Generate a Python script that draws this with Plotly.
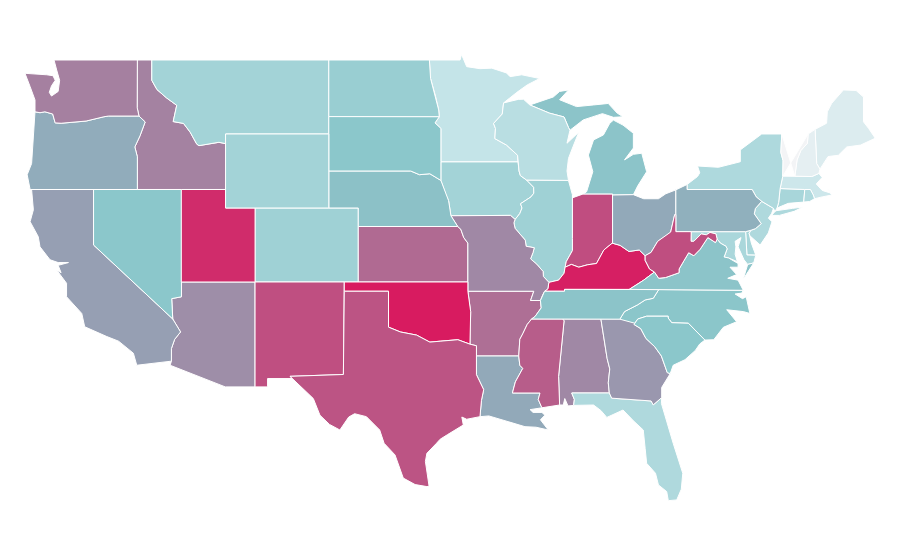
import plotly.graph_objects as go
from plotly.colors import sample_colorscale

# Shaded value per state (0-100)
states = ["AL","AR","AZ","CA","CO","CT","DC","DE","FL","GA","IA","ID","IL","IN","KS","KY","LA","MA","MD","ME","MI","MN","MO","MS","MT","NC","ND","NE","NH","NJ","NM","NV","NY","OH","OK","OR","PA","RI","SC","SD","TN","TX","UT","VA","VT","WA","WI","WV","WY"]
values = [61.5,70.5,59.5,53.5,33,30,30,30,27.5,56.4,31.6,63.7,33,82.5,72.2,98.5,50,16,29,10,41,20,61.5,76.8,31.6,40.5,35,42,6,27.5,81.9,40,27.7,50,100,49,47.7,27,40,40,41,80,94,41,0,64.5,24,82,31.6]
colorscale = [[0,"#f3f4f6"],[0.2,"#c4e4e8"],[0.4,"#8bc7cb"],[0.5,"#92a9b9"],[0.62,"#a187a4"],[0.8,"#bc5484"],[1,"#d81b60"]]

# Shared state borders in (lon, lat), so that neighbours meet exactly
MN_WI = [(-92.2,46.68),(-92.29,46.08),(-92.88,45.57),(-92.75,45.3),(-92.79,44.75),(-92.0,44.4),(-91.25,43.85),(-91.22,43.5)]
IA_WI = [(-91.22,43.5),(-91.15,43.0),(-91.06,42.75),(-90.64,42.51)]
IA_IL = [(-90.64,42.51),(-90.16,42.12),(-90.15,41.8),(-90.34,41.6),(-91.05,41.23),(-90.95,41.0),(-91.1,40.7),(-91.42,40.38)]
MO_IL = [(-91.42,40.38),(-91.5,40.2),(-91.42,39.9),(-90.73,39.26),(-90.67,38.93),(-90.12,38.85),(-90.2,38.6),(-90.37,38.25),(-89.95,37.96),(-89.52,37.57),(-89.5,37.3),(-89.13,36.98)]
MO_KY = [(-89.13,36.98),(-89.2,36.63),(-89.42,36.5)]
MO_TN = [(-89.42,36.5),(-89.55,36.3),(-89.7,36.0)]
AR_TN = [(-89.7,36.0),(-89.65,35.6),(-90.07,35.13),(-90.3,35.0)]
AR_MS = [(-90.3,35.0),(-90.6,34.7),(-90.9,34.2),(-91.1,33.9),(-91.17,33.0)]
LA_MS = [(-91.17,33.0),(-91.1,32.5),(-90.9,32.33),(-91.4,31.6),(-91.6,31.0),(-89.73,31.0),(-89.85,30.65),(-89.6,30.2)]
IL_KY = [(-89.13,36.98),(-88.47,37.1),(-88.1,37.47),(-88.03,37.8)]
IN_KY = [(-88.03,37.8),(-87.6,37.95),(-87.1,37.8),(-86.5,37.93),(-85.9,38.0),(-85.4,38.73),(-84.83,39.1)]
OH_KY = [(-84.83,39.1),(-84.3,38.98),(-83.7,38.65),(-83.0,38.73),(-82.6,38.42)]
OH_WV = [(-82.6,38.42),(-82.2,38.6),(-81.75,39.2),(-81.0,39.6),(-80.87,39.7),(-80.6,40.64)]
IL_IN = [(-88.03,37.8),(-87.95,38.1),(-87.53,38.7),(-87.53,39.35),(-87.53,41.71)]
DE_river = [(-74.7,41.36),(-75.13,40.97),(-75.2,40.68),(-74.73,40.15),(-75.13,39.88),(-75.42,39.8)]
NY_PA = [(-79.76,42.27),(-79.76,42.0),(-75.35,42.0),(-75.07,41.6),(-74.7,41.36)]
KY_WV = [(-82.6,38.42),(-82.6,38.17),(-82.3,37.7),(-81.97,37.54)]
VA_WV = [(-81.97,37.54),(-81.68,37.2),(-81.22,37.24),(-80.3,37.5),(-80.3,37.7),(-79.95,38.18),(-79.65,38.58),(-79.3,38.42),(-78.87,38.77),(-78.35,39.4),(-77.83,39.13),(-77.72,39.32)]
MD_WV = [(-77.72,39.32),(-77.8,39.6),(-78.2,39.68),(-78.45,39.55),(-78.8,39.6),(-79.3,39.2),(-79.49,39.2),(-79.48,39.72)]
KY_VA = [(-81.97,37.54),(-82.7,37.1),(-83.68,36.6)]
TN_NC = [(-81.68,36.59),(-82.05,36.12),(-82.6,36.03),(-83.1,35.77),(-84.0,35.4),(-84.32,34.99)]
NC_SC = [(-83.3,34.77),(-83.1,35.0),(-82.5,35.15),(-81.04,35.15),(-81.04,35.05),(-80.8,34.8),(-79.67,34.77),(-78.55,33.86)]
GA_SC = [(-83.3,34.77),(-83.35,34.7),(-82.9,34.48),(-82.55,33.95),(-81.95,33.5),(-81.5,33.0),(-81.1,32.1),(-80.9,32.05)]
FL_GA = [(-81.48,30.75),(-82.05,30.36),(-82.2,30.57),(-84.87,30.72),(-85.03,31.0)]
AL_GA = [(-85.03,31.0),(-85.1,31.55),(-85.0,32.3),(-85.18,32.87),(-85.6,35.0)]
AL_FL = [(-85.03,31.0),(-87.58,31.0),(-87.4,30.65),(-87.45,30.33)]
AL_MS = [(-88.2,35.0),(-88.1,34.9),(-88.47,31.9),(-88.4,30.35)]
LA_TX = [(-94.04,33.0),(-94.04,31.99),(-93.55,31.18),(-93.7,30.6),(-93.8,29.72)]
OK_AR = [(-94.62,36.5),(-94.43,35.39),(-94.48,33.64)]
RED_RIVER = [(-100.0,34.56),(-99.2,34.3),(-98.1,34.13),(-97.2,33.75),(-96.5,33.8),(-95.3,33.88),(-94.48,33.64)]
KS_MO = [(-94.62,37.0),(-94.62,39.1),(-94.9,39.4),(-95.1,39.85),(-95.31,40.0)]
IA_NE = [(-95.77,40.58),(-95.85,41.0),(-95.93,41.4),(-96.1,41.7),(-96.45,42.49)]
NE_SD = [(-96.45,42.49),(-97.2,42.85),(-97.9,42.8),(-98.5,43.0),(-104.05,43.0)]
MN_SD = [(-96.45,43.5),(-96.45,45.3),(-96.85,45.6),(-96.56,45.93)]
MN_ND = [(-96.56,45.93),(-96.6,46.3),(-96.8,47.0),(-97.15,48.0),(-97.23,49.0)]
ID_MT = [(-111.05,44.48),(-111.5,44.55),(-112.85,44.37),(-113.0,44.45),(-113.45,45.1),(-113.9,45.57),(-114.6,45.67),(-114.36,46.55),(-115.05,46.95),(-115.7,47.4),(-116.05,47.9),(-116.05,49.0)]
ID_OR = [(-117.03,42.0),(-117.03,43.77),(-117.2,44.3),(-116.85,44.9),(-116.5,45.65),(-116.92,45.97)]
OR_WA = [(-116.92,45.97),(-118.98,45.97),(-119.3,45.93),(-120.5,45.7),(-121.2,45.65),(-122.2,45.58),(-122.6,45.6),(-122.77,46.08),(-123.3,46.2),(-123.63,46.15),(-123.97,46.2)]
AZ_CA = [(-114.63,35.0),(-114.1,34.3),(-114.5,33.9),(-114.72,33.4),(-114.72,32.72)]
TX_RIO = [(-97.25,25.96),(-97.4,25.94),(-98.2,26.05),(-99.0,26.4),(-99.56,27.65),(-100.3,28.28),(-100.6,29.0),(-101.5,29.72),(-102.3,29.88),(-102.7,29.7),(-103.3,29.0),(-104.0,29.3),(-104.65,29.8),(-105.1,30.7),(-106.0,31.4),(-106.68,31.9)]
VT_NH = [(-71.55,45.0),(-71.6,44.5),(-72.05,44.1),(-72.3,43.6),(-72.45,42.72)]
NY_VT = [(-73.34,45.0),(-73.4,44.0),(-73.25,43.55),(-73.27,42.72)]
NH_ME = [(-71.08,45.25),(-70.97,43.4),(-70.75,43.1)]
POTOMAC = [(-76.3,38.0),(-76.95,38.3),(-77.25,38.35),(-77.04,38.79),(-77.12,38.93),(-77.5,39.1),(-77.72,39.32)]

def r(seg):
    return seg[::-1]

outlines = {
 "WA": [[(-122.68,49.0),(-117.03,49.0),(-117.04,46.42)] + OR_WA + [(-123.97,46.84),(-124.3,47.56),(-124.65,48.28),(-123.17,48.2),(-122.75,48.15),(-122.6,47.9),(-122.85,47.6),(-123.0,47.25),(-122.85,47.05),(-122.4,47.3),(-122.3,47.9),(-122.5,48.46)]],
 "OR": [[(-124.3,42.0),(-124.5,42.8),(-124.2,43.4),(-123.97,45.9),(-123.97,46.2)] + r(OR_WA) + r(ID_OR)],
 "CA": [[(-124.2,42.0),(-120.0,42.0),(-120.0,39.0)] + AZ_CA + [(-117.07,32.5),(-117.3,33.15),(-118.3,33.8),(-119.1,34.05),(-120.6,34.58),(-120.8,35.3),(-121.83,36.2),(-121.83,36.93),(-122.5,37.65),(-122.2,37.5),(-122.4,37.9),(-121.7,38.05),(-122.4,38.05),(-122.95,38.2),(-123.63,38.9),(-123.75,39.45),(-124.3,40.26),(-124.08,40.9)]],
 "NV": [[(-120.0,42.0),(-114.04,42.0),(-114.04,36.2),(-114.7,36.1),(-114.63,35.0),(-120.0,39.0)]],
 "ID": [[(-117.03,49.0),(-116.05,49.0)] + r(ID_MT) + [(-111.05,42.0)] + ID_OR + [(-117.04,46.42)]],
 "MT": [[(-116.05,49.0),(-104.05,49.0),(-104.05,45.0),(-111.05,45.0)] + ID_MT],
 "WY": [[(-111.05,45.0),(-104.05,45.0),(-104.05,41.0),(-111.05,41.0)]],
 "UT": [[(-114.05,42.0),(-111.05,42.0),(-111.05,41.0),(-109.05,41.0),(-109.05,37.0),(-114.05,37.0)]],
 "AZ": [[(-114.05,37.0),(-109.05,37.0),(-109.05,31.33),(-111.07,31.33),(-114.81,32.5),(-114.72,32.72)] + r(AZ_CA)[1:] + [(-114.7,36.1),(-114.05,36.2)]],
 "CO": [[(-109.05,41.0),(-102.05,41.0),(-102.05,37.0),(-109.05,37.0)]],
 "NM": [[(-109.05,37.0),(-103.0,37.0),(-103.06,32.0),(-106.68,31.9),(-106.53,31.78),(-108.2,31.78),(-108.2,31.33),(-109.05,31.33)]],
 "ND": [[(-104.05,49.0),(-97.23,49.0)] + r(MN_ND) + [(-104.05,45.94)]],
 "SD": [[(-104.05,45.94),(-96.56,45.93)] + r(MN_SD) + NE_SD],
 "NE": [[(-104.05,43.0)] + r(NE_SD) + r(IA_NE) + [(-95.31,40.0),(-102.05,40.0),(-102.05,41.0),(-104.05,41.0)]],
 "KS": [[(-102.05,40.0),(-95.31,40.0)] + r(KS_MO) + [(-102.05,37.0)]],
 "OK": [[(-103.0,37.0),(-94.62,37.0)] + OK_AR + r(RED_RIVER) + [(-100.0,36.5),(-103.0,36.5)]],
 "TX": [[(-103.0,36.5),(-100.0,36.5)] + RED_RIVER + [(-94.04,33.55)] + LA_TX + [(-94.7,29.58),(-95.03,29.7),(-94.93,29.27),(-96.0,28.75),(-96.5,28.5),(-96.75,28.28),(-97.4,27.74),(-97.5,27.3),(-97.35,26.6)] + TX_RIO + [(-103.06,32.0)]],
 "MN": [[(-97.23,49.0),(-95.15,49.0),(-95.05,49.3),(-94.7,48.64),(-93.8,48.53),(-93.0,48.56),(-92.0,48.3),(-91.76,48.1),(-90.97,48.2),(-89.75,48.0),(-90.6,47.65),(-91.3,47.25)] + MN_WI + [(-96.45,43.5)] + MN_SD + MN_ND],
 "IA": [[(-96.45,43.5),(-91.22,43.5)] + IA_WI + IA_IL + [(-91.73,40.6),(-95.77,40.58)] + IA_NE],
 "MO": [[(-95.77,40.58),(-91.73,40.6)] + MO_IL + MO_KY + MO_TN + [(-90.37,36.0),(-90.15,36.5),(-94.62,36.5)] + KS_MO],
 "AR": [[(-94.62,36.5),(-90.15,36.5),(-90.37,36.0),(-89.7,36.0)] + AR_TN + AR_MS + [(-94.04,33.0),(-94.04,33.55)] + r(OK_AR)],
 "LA": [[(-94.04,33.0),(-91.17,33.0)] + LA_MS + [(-89.9,30.15),(-90.4,30.1),(-90.2,29.95),(-89.6,29.95),(-89.4,29.8),(-89.7,29.55),(-89.17,29.0),(-90.0,29.15),(-90.75,29.18),(-91.5,29.35),(-92.2,29.54),(-93.2,29.76)] + r(LA_TX)],
 "WI": [[(-92.2,46.68),(-91.2,46.87),(-90.85,46.88),(-90.42,46.57),(-89.1,46.13),(-88.1,45.92),(-87.8,45.35),(-87.7,45.2),(-87.9,44.5),(-87.45,44.85),(-87.1,45.1),(-87.5,44.3),(-87.8,43.68),(-87.9,43.0),(-87.8,42.49),(-90.64,42.51)] + r(IA_WI) + r(MN_WI)],
 "IL": [[(-90.64,42.51),(-87.8,42.49),(-87.53,41.71)] + r(IL_IN) + r(IL_KY) + r(MO_IL) + r(IA_IL)],
 "IN": [[(-87.53,41.71),(-87.5,41.56),(-86.8,41.76),(-84.81,41.76),(-84.81,39.1),(-84.83,39.1)] + r(IN_KY) + IL_IN],
 "MI": [[(-86.8,41.76),(-86.57,41.88),(-86.15,42.96),(-86.45,43.86),(-86.1,44.68),(-85.43,44.95),(-85.0,45.58),(-84.75,45.75),(-84.1,45.48),(-83.4,45.04),(-83.4,44.24),(-84.0,43.6),(-83.4,43.9),(-82.83,43.96),(-82.5,42.96),(-83.1,42.2),(-83.4,41.72),(-84.81,41.7),(-84.81,41.76)],
        [(-90.42,46.57),(-88.83,47.0),(-88.4,47.3),(-87.8,47.38),(-88.4,46.85),(-87.25,46.48),(-86.1,46.57),(-85.1,46.65),(-84.5,46.13),(-84.1,45.93),(-84.75,45.9),(-85.5,46.1),(-86.8,45.76),(-87.7,45.2),(-87.8,45.35),(-88.1,45.92),(-89.1,46.13)]],
 "OH": [[(-84.81,41.7),(-83.4,41.72),(-82.7,41.5),(-81.7,41.5),(-81.2,41.77),(-80.52,41.98),(-80.52,40.64),(-80.6,40.64)] + r(OH_WV) + r(OH_KY) + [(-84.81,39.1)]],
 "KY": [[(-89.42,36.5)] + r(MO_KY) + IL_KY + IN_KY + OH_KY + KY_WV + KY_VA + [(-88.07,36.6),(-88.07,36.5)]],
 "TN": [[(-89.42,36.5),(-88.07,36.5),(-88.07,36.6),(-83.68,36.6),(-81.68,36.59)] + TN_NC + [(-85.6,35.0),(-88.2,35.0),(-90.3,35.0)] + r(AR_TN) + r(MO_TN)],
 "MS": [[(-90.3,35.0),(-88.2,35.0)] + AL_MS + [(-89.6,30.2)] + r(LA_MS) + r(AR_MS)],
 "AL": [[(-88.2,35.0),(-85.6,35.0)] + r(AL_GA) + AL_FL + [(-87.83,30.3),(-88.05,30.7),(-88.15,30.35)] + r(AL_MS)],
 "GA": [[(-85.6,35.0),(-84.32,34.99),(-83.1,35.0),(-83.3,34.77)] + GA_SC[1:] + [(-81.48,31.3)] + FL_GA + AL_GA],
 "FL": [FL_GA + AL_FL[1:] + [(-86.1,30.35),(-85.6,30.05),(-85.2,29.68),(-84.6,29.9),(-84.1,30.08),(-83.4,29.5),(-82.73,29.0),(-82.6,28.0),(-82.5,27.2),(-81.9,26.66),(-81.7,26.03),(-81.14,25.67),(-81.03,25.18),(-80.46,25.22),(-80.15,25.8),(-80.05,26.66),(-80.7,28.28),(-81.5,30.44)]],
 "SC": [NC_SC + [(-78.9,33.65),(-79.2,33.3),(-79.9,32.8),(-80.7,32.5)] + r(GA_SC)],
 "NC": [[(-81.68,36.59),(-75.95,36.55),(-76.05,36.4),(-76.5,36.35),(-76.0,36.1),(-75.75,36.2),(-75.5,35.3),(-75.95,35.4),(-77.07,35.5),(-76.4,34.85),(-77.3,34.55),(-77.95,33.88)] + r(NC_SC) + [(-84.32,34.99)] + r(TN_NC)],
 "VA": [[(-83.68,36.6),(-81.68,36.59),(-75.95,36.55),(-76.3,37.1),(-77.0,37.2),(-76.4,37.4),(-76.85,37.8),(-76.3,37.8)] + POTOMAC + r(VA_WV) + KY_VA,
        [(-75.24,38.03),(-75.65,37.95),(-75.95,37.15),(-75.65,37.5)]],
 "WV": [[(-80.6,40.64),(-80.52,40.64),(-80.52,39.72),(-79.48,39.72)] + r(MD_WV) + r(VA_WV) + r(KY_WV) + OH_WV],
 "MD": [[(-79.48,39.72),(-75.79,39.72),(-75.7,38.46),(-75.1,38.45),(-75.24,38.03),(-75.65,37.95),(-75.9,38.2),(-76.3,38.9),(-76.1,39.4),(-76.5,39.2),(-76.45,38.9),(-76.5,38.5),(-76.35,38.1)] + POTOMAC[1:] + MD_WV],
 "DC": [[(-77.04,38.79),(-77.12,38.93),(-77.04,38.99),(-76.91,38.89)]],
 "DE": [[(-75.42,39.8),(-75.55,39.63),(-75.4,39.1),(-75.1,38.45),(-75.7,38.46),(-75.79,39.72)]],
 "PA": [[(-80.52,41.98)] + NY_PA + DE_river + [(-75.79,39.72),(-80.52,39.72),(-80.52,40.64)]],
 "NJ": [[(-74.7,41.36),(-73.9,40.98),(-74.03,40.7),(-74.25,40.45),(-74.0,40.26),(-74.25,39.65),(-74.8,39.0),(-75.5,39.5),(-75.55,39.63)] + r(DE_river)],
 "NY": [[(-79.76,42.27),(-79.05,42.7),(-78.9,42.9),(-79.05,43.27),(-77.63,43.2),(-76.15,43.5),(-76.15,44.14),(-74.93,44.85),(-74.7,45.0)] + NY_VT + [(-73.45,42.05),(-73.55,41.3),(-73.66,41.0),(-73.8,40.8),(-73.9,40.98)] + r(NY_PA)[:-1],
        [(-74.03,40.6),(-73.75,40.85),(-72.6,40.98),(-72.1,41.05),(-71.9,41.05),(-72.5,40.82),(-73.5,40.6)]],
 "CT": [[(-73.45,42.05),(-71.78,42.0),(-71.85,41.32),(-72.9,41.25),(-73.66,41.0),(-73.55,41.3)]],
 "RI": [[(-71.78,42.0),(-71.4,42.0),(-71.2,41.7),(-71.12,41.5),(-71.45,41.35),(-71.85,41.32)]],
 "MA": [[(-73.27,42.72),(-72.45,42.72),(-71.3,42.7),(-70.82,42.87),(-70.6,42.65),(-71.0,42.3),(-70.6,41.95),(-70.0,41.8),(-70.25,42.05),(-69.95,41.7),(-70.6,41.6),(-71.12,41.5),(-71.2,41.7),(-71.4,42.0),(-71.78,42.0),(-73.45,42.05)]],
 "VT": [NY_VT[::-1] + r(VT_NH)],
 "NH": [VT_NH + [(-71.3,42.7),(-70.82,42.87)] + r(NH_ME)],
 "ME": [NH_ME + [(-70.2,43.78),(-69.5,43.85),(-68.93,44.3),(-68.0,44.4),(-67.0,44.77),(-67.45,45.3),(-67.8,45.66),(-67.8,47.0),(-68.3,47.35),(-69.16,47.38),(-69.95,46.66),(-70.25,46.2),(-70.3,45.58)]],
}

fills = dict(zip(states, sample_colorscale(colorscale, [v / 100 for v in values])))

fig = go.Figure()
for st, z in zip(states, values):
    xs, ys = [], []
    for ring in outlines[st]:
        xs += [p[0] for p in ring] + [ring[0][0], None]
        ys += [p[1] for p in ring] + [ring[0][1], None]
    fig.add_trace(go.Scatter(
        x=xs, y=ys, name=st, mode="lines", fill="toself", fillcolor=fills[st],
        line=dict(color="#ffffff", width=1), hoverinfo="text", text=f"{st}: {z}",
        showlegend=False,
    ))

fig.update_xaxes(visible=False, range=[-125.8, -64.78])
fig.update_yaxes(visible=False, range=[21.54, 51.81])
fig.update_layout(width=900, height=560, margin=dict(l=0, r=0, t=0, b=0),
                  paper_bgcolor="#ffffff", plot_bgcolor="#ffffff")
fig.write_html("out.html")
